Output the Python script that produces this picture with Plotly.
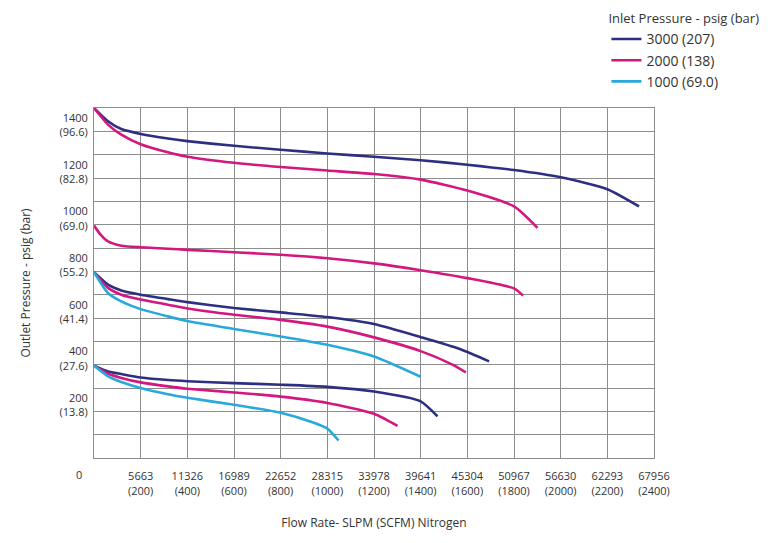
import plotly.graph_objects as go

# ---- data (flow in SLPM, outlet pressure in psig) ----
navy_1500_x = [0, 1698, 3311, 5663, 8975, 11326, 16989, 22652, 28315, 33978, 39641, 45304, 50967, 56630, 62293, 66140]
navy_1500_y = [1500, 1443, 1410, 1389, 1369, 1358, 1338, 1321, 1305, 1291, 1276, 1257, 1234, 1203, 1152, 1078]

mag_1500_x = [0, 1698, 3311, 5663, 8975, 11326, 16989, 22652, 28315, 33978, 39641, 45304, 50967, 53816]
mag_1500_y = [1500, 1429, 1386, 1345, 1310, 1291, 1265, 1247, 1232, 1217, 1193, 1146, 1078, 986]

mag_1000_x = [0, 800, 1698, 3311, 5663, 8975, 11326, 16989, 22652, 28315, 33978, 39641, 45304, 50967, 52070]
mag_1000_y = [996, 957, 928, 910, 903, 897, 892, 882, 871, 856, 834, 805, 771, 727, 696]

navy_800_x = [0, 1698, 3311, 5663, 8975, 11326, 16989, 22652, 28315, 33978, 39641, 44392, 47946]
navy_800_y = [796, 743, 718, 700, 681, 668, 643, 624, 604, 574, 518, 467, 414]

mag_800_x = [0, 1698, 3311, 5663, 8975, 11326, 16989, 22652, 28315, 33978, 39641, 43500, 45119]
mag_800_y = [796, 729, 700, 679, 657, 641, 614, 592, 563, 517, 458, 400, 367]

cyan_800_x = [0, 1698, 3311, 5663, 8975, 11326, 16989, 22652, 28315, 33978, 39641]
cyan_800_y = [796, 707, 671, 638, 607, 587, 553, 521, 485, 435, 348]

navy_400_x = [0, 1698, 3311, 5663, 8975, 11326, 16989, 22652, 28315, 33978, 39641, 41687]
navy_400_y = [396, 371, 360, 345, 334, 329, 321, 314, 305, 285, 243, 178]

mag_400_x = [0, 1698, 3311, 5663, 8975, 11326, 16989, 22652, 28315, 33978, 36835]
mag_400_y = [396, 361, 343, 324, 307, 297, 281, 263, 236, 190, 138]

cyan_400_x = [0, 1698, 3311, 5663, 8975, 11326, 16989, 22652, 26600, 28315, 29680]
cyan_400_y = [396, 350, 326, 300, 273, 258, 228, 194, 152, 126, 75]

x_tickvals = [5663, 11326, 16989, 22652, 28315, 33978, 39641, 45304, 50967, 56630, 62293, 67956]
x_ticktext = ["5663<br>(200)", "11326<br>(400)", "16989<br>(600)", "22652<br>(800)", "28315<br>(1000)",
              "33978<br>(1200)", "39641<br>(1400)", "45304<br>(1600)", "50967<br>(1800)", "56630<br>(2000)",
              "62293<br>(2200)", "67956<br>(2400)"]
y_tickvals = [0, 100, 200, 300, 400, 500, 600, 700, 800, 900, 1000, 1100, 1200, 1300, 1400, 1500]
y_ticktext = ["", "", "200<br>(13.8)", "", "400<br>(27.6)", "", "600<br>(41.4)", "", "800<br>(55.2)", "",
              "1000<br>(69.0)", "", "1200<br>(82.8)", "", "1400<br>(96.6)", ""]

NAVY = "#2d3080"
MAG = "#d3177f"
CYAN = "#27a9db"
FONT = "Open Sans"

series = [
    (navy_1500_x, navy_1500_y, NAVY, "3000 (207)", "g3000", True),
    (navy_800_x, navy_800_y, NAVY, "3000 (207)", "g3000", False),
    (navy_400_x, navy_400_y, NAVY, "3000 (207)", "g3000", False),
    (mag_1500_x, mag_1500_y, MAG, "2000 (138)", "g2000", True),
    (mag_1000_x, mag_1000_y, MAG, "2000 (138)", "g2000", False),
    (mag_800_x, mag_800_y, MAG, "2000 (138)", "g2000", False),
    (mag_400_x, mag_400_y, MAG, "2000 (138)", "g2000", False),
    (cyan_800_x, cyan_800_y, CYAN, "1000 (69.0)", "g1000", True),
    (cyan_400_x, cyan_400_y, CYAN, "1000 (69.0)", "g1000", False),
]

fig = go.Figure()
for xs, ys, col, name, grp, show in series:
    fig.add_trace(go.Scatter(x=xs, y=ys, mode="lines", name=name, legendgroup=grp, showlegend=show,
                             line=dict(color=col, width=2.6, shape="spline", smoothing=0.6)))

fig.update_layout(
    width=768, height=543,
    margin=dict(l=86, r=122, t=100, b=93, autoexpand=False),
    paper_bgcolor="white", plot_bgcolor="white",
    font=dict(family=FONT, size=11, color="#333333"),
    legend=dict(x=0.915, y=1.29, xanchor="left", yanchor="top",
                title=dict(text="Inlet Pressure - psig (bar)", font=dict(size=13, color="#333333")),
                font=dict(size=14, color="#333333"), itemwidth=30, tracegroupgap=0,
                bgcolor="rgba(0,0,0,0)"),
    xaxis=dict(range=[0, 67956], tickmode="array", tickvals=x_tickvals, ticktext=x_ticktext,
               showgrid=True, gridcolor="#8c8c8c", gridwidth=1, showline=True, linecolor="#8c8c8c",
               mirror=True, zeroline=False, ticks="", ticklabelstandoff=8, automargin=False,
               title=dict(text="Flow Rate- SLPM (SCFM) Nitrogen", font=dict(size=12), standoff=22)),
    yaxis=dict(range=[0, 1500], tickmode="array", tickvals=y_tickvals, ticktext=y_ticktext,
               showgrid=True, gridcolor="#8c8c8c", gridwidth=1, showline=True, linecolor="#8c8c8c",
               mirror=True, zeroline=False, ticks="", ticklabelshift=-6, ticklabelstandoff=3,
               automargin=False,
               title=dict(text="Outlet Pressure - psig (bar)", font=dict(size=12), standoff=26)),
)

fig.add_annotation(x=0, y=0, xref="x", yref="paper", text="0", showarrow=False,
                   xshift=-15, yshift=-26, font=dict(family=FONT, size=11, color="#333333"))

fig.write_html("out.html")
